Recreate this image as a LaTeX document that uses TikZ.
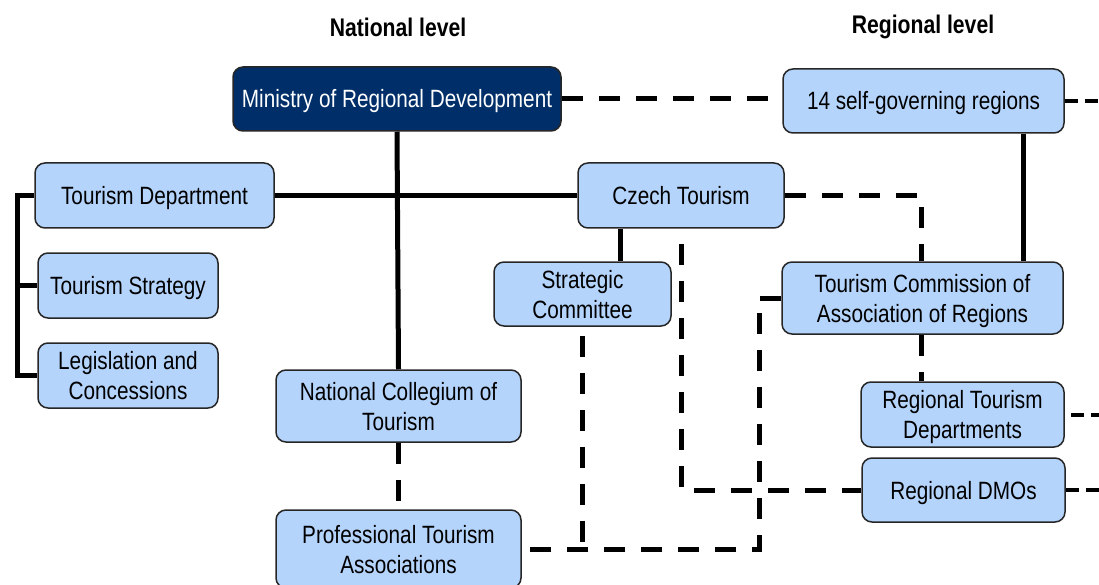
\documentclass[tikz,border=0pt]{standalone}
\usepackage{fontspec}
\setmainfont{Liberation Sans}[FakeStretch=0.83]
\definecolor{boxblue}{RGB}{180,212,252}
\definecolor{ministryblue}{RGB}{0,46,104}
\begin{document}
\begin{tikzpicture}[x=1pt,y=-1pt,
  box/.style={draw=black!85,line width=1.5pt,rounded corners=10pt,fill=boxblue,
    align=center,inner sep=0pt,text depth=0pt,font=\fontsize{25}{30}\selectfont},
  oneline/.style={box,text height=18pt},
  link/.style={line width=5pt},
  dlink/.style={line width=5pt,dash pattern=on 21pt off 16pt},
  stub/.style={line width=4pt,dash pattern=on 13pt off 7pt},
  level/.style={font=\bfseries\fontsize{25.5}{30}\selectfont}]

\useasboundingbox (0,0) rectangle (1099,585);

\node[level] (natlevel) at (398,27) {National level};
\node[level] (reglevel) at (923,27) {Regional level};

% national level
\node[oneline,fill=ministryblue,text=white,minimum width=328pt,minimum height=64pt] (ministry) at (397,99) {Ministry of Regional Development};
\node[oneline,minimum width=239pt,minimum height=65pt] (tdept) at (154.5,195.5) {Tourism Department};
\node[oneline,minimum width=180pt,minimum height=65pt] (strategy) at (128,285.5) {Tourism Strategy};
\node[box,minimum width=180pt,minimum height=65pt] (legis) at (128,375.5) {Legislation and\\Concessions};
\node[oneline,minimum width=206pt,minimum height=65pt] (czech) at (681,195.5) {Czech Tourism};
\node[box,minimum width=177pt,minimum height=64pt] (stratcom) at (582.5,294) {Strategic\\Committee};
\node[box,minimum width=245pt,minimum height=72pt] (collegium) at (398.5,406) {National Collegium of\\Tourism};
\node[box,minimum width=245pt,minimum height=78pt] (prof) at (398.5,549) {Professional Tourism\\Associations};

% regional level
\node[oneline,minimum width=281pt,minimum height=64pt] (regions) at (923.5,101) {14 self-governing regions};
\node[box,minimum width=281pt,minimum height=72pt] (commission) at (922.5,298) {Tourism Commission of\\Association of Regions};
\node[box,minimum width=203pt,minimum height=65pt] (regdept) at (962.5,414.5) {Regional Tourism\\Departments};
\node[oneline,minimum width=203pt,minimum height=64pt] (dmo) at (963.5,490) {Regional DMOs};

% solid links
\draw[link] (ministry.south) -- (collegium.north);
\draw[link] (tdept.east) -- (czech.west);
\draw[link] (tdept.west) -- ++(-17,0) |- (legis.west);
\draw[link] (strategy.west) -- ++(-20,0);
\draw[link] ([xshift=-61pt]czech.south) -- ([xshift=-61pt]czech.south |- stratcom.north);
\draw[link] ([xshift=100pt]regions.south) -- ([xshift=100pt]regions.south |- commission.north);

% dashed links
\draw[dlink] (ministry.east) -- (ministry.east -| regions.west);
\draw[dlink] (czech.east) -| ([xshift=-1.5pt]commission.north);
\draw[dlink,dash phase=22pt] (czech.south) |- (dmo.west);
\draw[dlink,dash phase=28pt] (stratcom.south) -- (stratcom.south |- prof.east);
\draw[dlink] (commission.west) -- ++(-22,0) |- (prof.east);
\draw[dlink] (collegium.south) -- (prof.north);
\draw[dlink] ([xshift=-1.5pt]commission.south) -- ([xshift=-1.5pt]commission.south |- regdept.north);

\draw[stub] (regions.east) -- ++(35,0);
\draw[stub,dash phase=14pt] (regdept.east) -- ++(35,0);
\draw[stub] (dmo.east) -- ++(34,0);

\end{tikzpicture}
\end{document}
